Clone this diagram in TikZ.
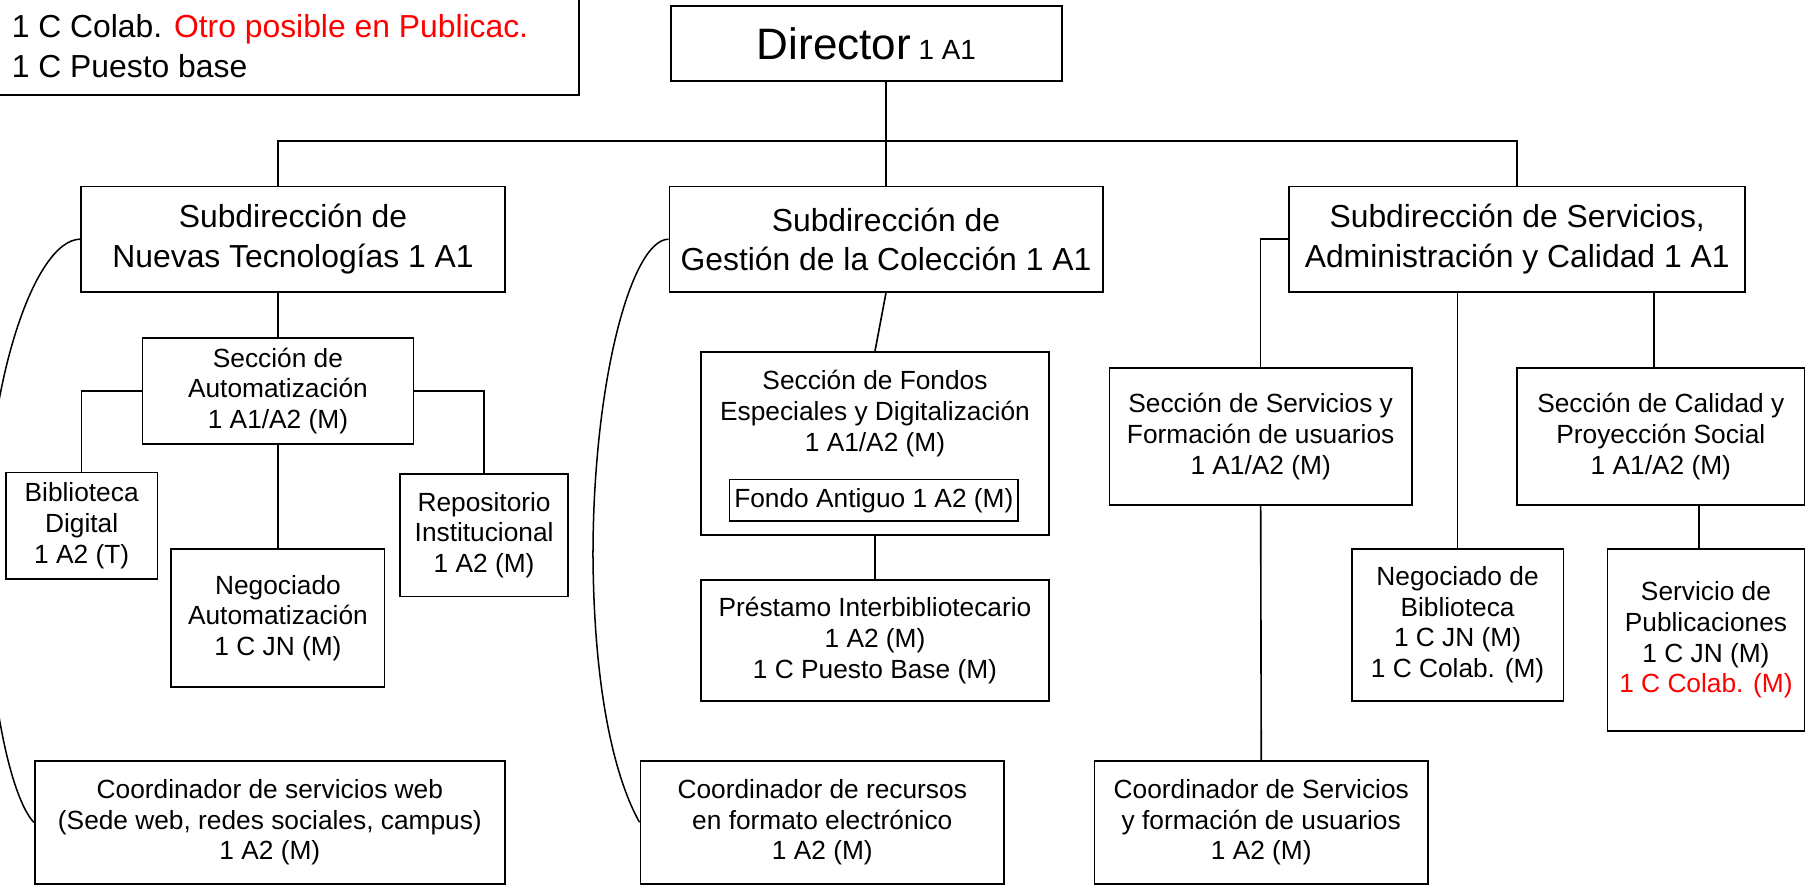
\documentclass[tikz,border=0pt]{standalone}
\usepackage{fontspec}
\setmainfont{Liberation Sans}
\begin{document}
\begin{tikzpicture}[x=1pt,y=-1pt,
  box/.style={draw, line width=1.6pt, inner sep=0pt, align=center, fill=white},
  big/.style={font=\fontsize{27.5}{34}\selectfont},
  small/.style={font=\fontsize{22.7}{26.5}\selectfont},
  conn/.style={line width=1.4pt},
  curv/.style={line width=1.3pt}]
\useasboundingbox (0,0) rectangle (1568,766);
\clip (0,0) rectangle (1568,766);

% note box (top left)
\node (note) [box, minimum width=540pt, minimum height=110pt, anchor=south east] at (501,83) {};
\node (notetext) [anchor=west, align=left, inner sep=0pt, font=\fontsize{27.5}{35}\selectfont] at (10,40)
  {1 C Colab. \textcolor{red}{Otro posible en Publicac.}\\1 C Puesto base};

% director
\node (dir) [box, minimum width=338pt, minimum height=65pt] at (748,37.5)
  {\fontsize{38}{40}\selectfont Director\fontsize{24}{26}\selectfont\ 1 A1};

% subdirecciones
\node (nt) [box, big, minimum width=366pt, minimum height=91pt] at (253,206.5) {Subdirección de\\Nuevas Tecnologías 1 A1};
\node (gc) [box, big, minimum width=374pt, minimum height=91pt] at (765,206.5) {Subdirección de\\Gestión de la Colección 1 A1};
\node (sv) [box, big, minimum width=394pt, minimum height=91pt] at (1310,206.5) {Subdirección de Servicios,\\Administración y Calidad 1 A1};

% Nuevas Tecnologias
\node (sa) [box, small, minimum width=234pt, minimum height=91pt] at (240,337.5) {Sección de\\Automatización\\1 A1/A2 (M)};
\node (bd) [box, small, minimum width=131pt, minimum height=92pt] at (70.5,454) {Biblioteca\\Digital\\1 A2 (T)};
\node (na) [box, small, minimum width=184pt, minimum height=119pt] at (240,533.5) {Negociado\\Automatización\\1 C JN (M)};
\node (ri) [box, small, minimum width=145pt, minimum height=106pt] at (418,462) {Repositorio\\Institucional\\1 A2 (M)};
\node (cw) [box, small, minimum width=406pt, minimum height=106pt] at (233,710) {Coordinador de servicios web\\(Sede web, redes sociales, campus)\\1 A2 (M)};

% Gestion de la Coleccion
\node (sf) [box, minimum width=301pt, minimum height=158pt] at (755.5,383) {};
\node (sftext) [small, align=center, inner sep=0pt] at (755.5,357) {Sección de Fondos\\Especiales y Digitalización\\1 A1/A2 (M)};
\node (fa) [box, small, line width=1.4pt, minimum width=249pt, minimum height=36pt] at (754.5,432) {Fondo Antiguo 1 A2 (M)};
\node (pi) [box, small, minimum width=301pt, minimum height=104pt] at (755.5,553) {Préstamo Interbibliotecario\\1 A2 (M)\\1 C Puesto Base (M)};
\node (cr) [box, small, minimum width=314pt, minimum height=106pt] at (710,710) {Coordinador de recursos\\en formato electrónico\\1 A2 (M)};

% Servicios
\node (ss) [box, small, minimum width=261pt, minimum height=118pt] at (1088.5,377) {Sección de Servicios y\\Formación de usuarios\\1 A1/A2 (M)};
\node (cs) [box, small, minimum width=288pt, minimum height=106pt] at (1089,710) {Coordinador de Servicios\\y formación de usuarios\\1 A2 (M)};
\node (nb) [box, small, minimum width=183pt, minimum height=131pt] at (1258.5,539.5) {Negociado de\\Biblioteca\\1 C JN (M)\\1 C Colab. (M)};
\node (sc) [box, small, minimum width=248pt, minimum height=118pt] at (1434,377) {Sección de Calidad y\\Proyección Social\\1 A1/A2 (M)};
\node (sp) [box, small, minimum width=170pt, minimum height=157pt] at (1473,552.5) {Servicio de\\Publicaciones\\1 C JN (M)\\\textcolor{red}{1 C Colab. (M)}};

% connectors
\coordinate (bus) at (0,122);
\draw[conn] (sa.north |- nt.north) -- (sa.north |- bus) -| (sv.north);
\draw[conn] (gc.north) -- (gc.north |- dir.south);
\draw[conn] (sa.north) -- (sa.north |- nt.south);
\draw[conn] (sa.west) -| (bd.north);
\draw[conn] (sa.east) -| (ri.north);
\draw[conn] (sa.south) -- (na.north);
\draw[curv] (nt.west) .. controls (30,207) and (-12,330) .. (-12,470) .. controls (-12,600) and (10,690) .. (cw.west);
\draw[conn] (gc.south) -- (sf.north);
\draw[conn] (sf.south) -- (pi.north);
\draw[curv] (gc.west) .. controls (545,207) and (512,330) .. (512,480) .. controls (513,620) and (538,685) .. (cr.west);
\draw[conn] (sv.west) -| (ss.north);
\draw[conn] (ss.south) -- (cs.north);
\draw[conn] (nb.north) -- (nb.north |- sv.south);
\draw[conn] ([xshift=-6pt]sc.north) -- ([xshift=-6pt]sc.north |- sv.south);
\draw[conn] ([xshift=-6pt]sp.north) -- ([xshift=-6pt]sp.north |- sc.south);
\end{tikzpicture}
\end{document}
